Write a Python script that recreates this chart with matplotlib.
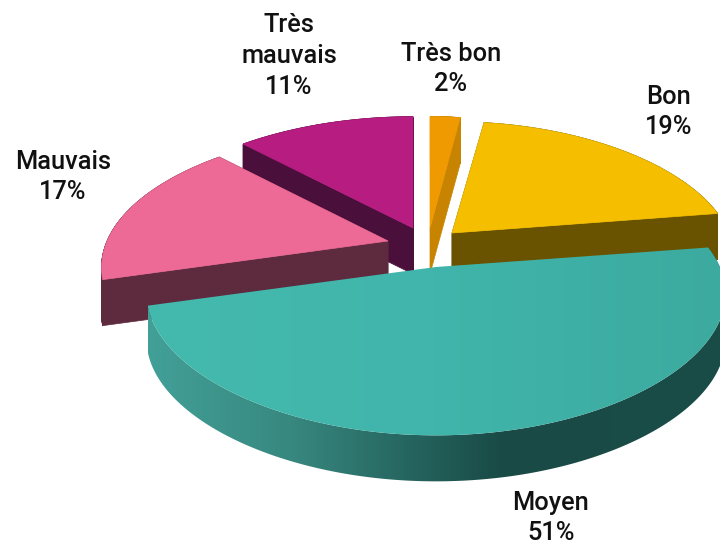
import numpy as np
import matplotlib
matplotlib.use('Agg')
import matplotlib.pyplot as plt
from matplotlib.collections import PolyCollection
from matplotlib.colors import LinearSegmentedColormap
from matplotlib.patches import Polygon

# slices, clockwise from 12 o'clock
labels = ['Très bon', 'Bon', 'Moyen', 'Mauvais', 'Très\nmauvais']
shares = [2, 19, 51, 17, 11]

top_colors = ['#ee9a00', '#f5bf00', '#41b5ab', '#ee6a96', '#b71c80']
wall_colors = ['#c88300', '#695200', '#42a098', '#5e2a3e', '#4a0f3a']

# exploded tip of each slice, pixels
tips_x = [430, 452, 436, 388, 413]
tips_y = [228, 233, 267, 241, 228]
radii_x = [265, 281, 288, 285, 287]

label_x = [451, 669, 551, 63, 289]
label_y = [69, 112, 518, 177, 56]

ry = 134
persp_x = 0.1
persp_y = 0.204
bend = 13
depth = 46

wall_cmap = LinearSegmentedColormap.from_list('w', [(0, '#42a098'), (0.25, '#37887f'), (0.45, '#266660'),
                                                    (0.62, '#194a46'), (1, '#1a4c48')])
top_cmap = LinearSegmentedColormap.from_list('t', ['#44b9ad', '#41b5ab', '#3caa9f'])


def project(a, tx, ty, rx):
    # angle on the pie -> picture position, nearer side is drawn bigger
    u = np.sin(a)
    v = np.cos(a)
    x = tx + rx * u / (1 + persp_x * v)
    y = ty - ry * v / (1 + persp_y * v) + bend * u ** 2
    return x, y


def shaded(xs, ys, cmap, z):
    # left to right gradient, cut to the polygon
    grad = np.linspace(0, 1, 256).reshape(1, -1)
    im = ax.imshow(grad, cmap=cmap, extent=[148, 720, 544, 0], aspect='auto', zorder=z)
    im.set_clip_path(Polygon(np.c_[xs, ys], transform=ax.transData))


fig = plt.figure(figsize=(7.2, 5.44), dpi=100)
ax = fig.add_axes([0, 0, 1, 1])

edges = np.radians(np.cumsum([0] + shares) * 3.6)

# back slices first, the big one goes on top of everything
draw_order = [4, 3, 0, 1, 2]
for n, i in enumerate(draw_order):
    a = np.linspace(edges[i], edges[i + 1], 200)
    x, y = project(a, tips_x[i], tips_y[i], radii_x[i])
    tx, ty = tips_x[i], tips_y[i]

    if i == 2:
        shaded(np.r_[x, x[::-1]], np.r_[y, y[::-1] + depth], wall_cmap, n * 3 + 1)
        shaded(np.r_[tx, x], np.r_[ty, y], top_cmap, n * 3 + 2)
        continue

    # cut walls
    for j in [0, -1]:
        ax.fill([tx, x[j], x[j], tx], [ty, y[j], y[j] + depth, ty + depth],
                color=wall_colors[i], lw=0.5, zorder=n * 3 + 1)

    # outer wall
    quads = [[(x[k], y[k]), (x[k + 1], y[k + 1]), (x[k + 1], y[k + 1] + depth), (x[k], y[k] + depth)]
             for k in range(len(x) - 1)]
    ax.add_collection(PolyCollection(quads, facecolors=wall_colors[i], edgecolors=wall_colors[i],
                                     linewidths=0.6, zorder=n * 3 + 1))

    # top face
    ax.fill(np.r_[tx, x], np.r_[ty, y], color=top_colors[i], lw=0.5, zorder=n * 3 + 2)

for i in range(len(labels)):
    ax.text(label_x[i], label_y[i], labels[i] + '\n' + str(shares[i]) + '%', ha='center', va='center',
            fontsize=18.3, family='Roboto', fontweight='medium', color='#111111', linespacing=1.36, zorder=30)

ax.set_xlim(0, 720)
ax.set_ylim(544, 0)
ax.axis('off')

fig.savefig('out.png', dpi=100)
